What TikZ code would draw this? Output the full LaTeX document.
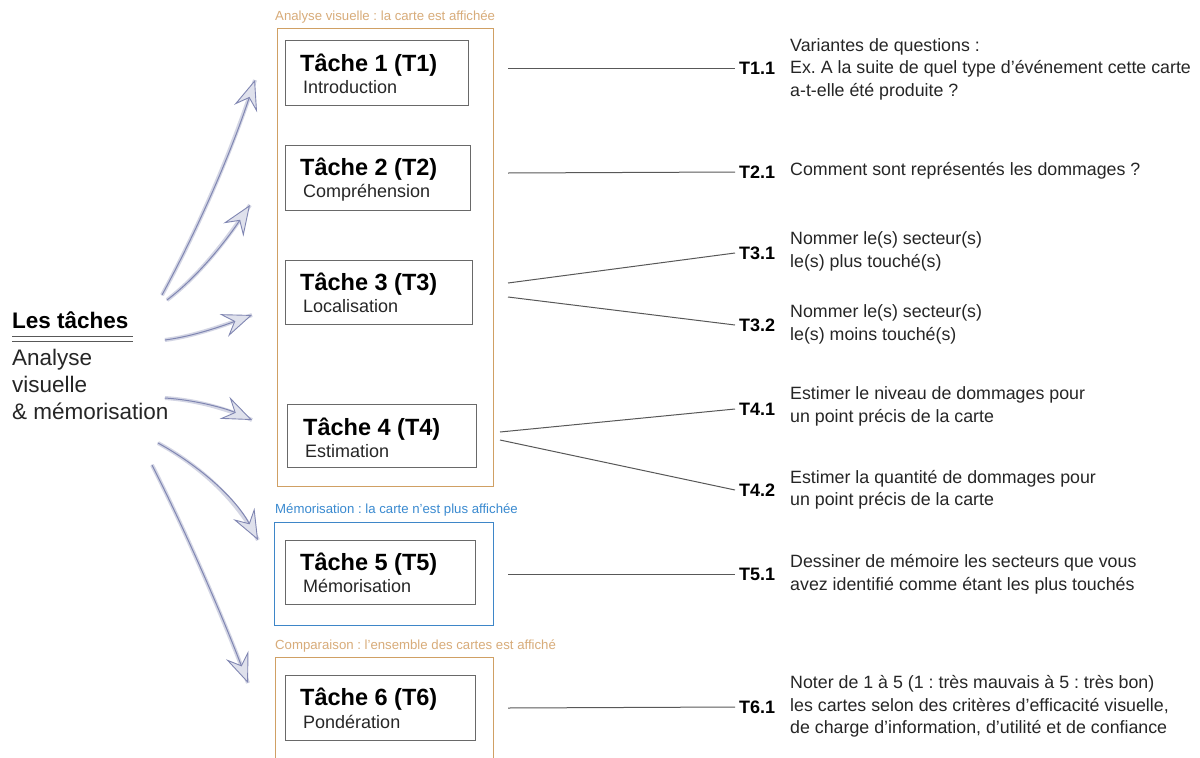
\documentclass[tikz,border=0pt]{standalone}
\usepackage{fontspec}
\setmainfont{Liberation Sans}
\usepackage{xcolor}
\usepackage{tikz}
\usetikzlibrary{positioning, calc, arrows.meta}
\frenchspacing

\definecolor{cadreorange}{RGB}{208,160,100}
\definecolor{texteorange}{RGB}{216,172,122}
\definecolor{cadrebleu}{RGB}{62,134,200}
\definecolor{textebleu}{RGB}{58,138,208}
\definecolor{flechecol}{RGB}{128,134,178}
\definecolor{gris}{RGB}{88,88,88}

\tikzset{
  cadre/.style={line width=1.3pt, anchor=north west, inner sep=0pt},
  tachebox/.style={draw=gris!90, line width=0.9pt, anchor=north west, inner sep=0pt},
  titre/.style={anchor=base west, inner sep=0pt, font=\fontsize{23.5}{26}\selectfont\bfseries},
  soustitre/.style={anchor=base west, inner sep=0pt, font=\fontsize{18}{22}\selectfont, text=black!85},
  etiquette/.style={anchor=west, inner sep=0pt, font=\fontsize{13.2}{15}\selectfont},
  tnum/.style={anchor=west, inner sep=4pt, font=\fontsize{18}{20}\selectfont\bfseries},
  desc/.style={anchor=west, inner sep=0pt, align=left, font=\fontsize{17.8}{22.5}\selectfont, text=black!85},
  lien/.style={draw=gris, line width=1pt},
  fleche/.style={draw=flechecol, line width=1pt, line cap=round,
    preaction={draw=flechecol!35, line width=4pt, -},
    -{Stealth[length=30pt, width=24pt, inset=11pt, fill=flechecol!25, line width=0.9pt]}}
}

\begin{document}
\begin{tikzpicture}[x=1pt, y=-1pt]
  \clip (0,0) rectangle (1200,758);
  \fill[white] (0,0) rectangle (1200,758);

  % Cadres des trois phases
  \node[cadre, draw=cadreorange, minimum width=216pt, minimum height=458pt] (f1) at (277,28) {};
  \node[cadre, draw=cadrebleu, minimum width=219pt, minimum height=103pt] (f2) at (274,522) {};
  \node[cadre, draw=cadreorange, minimum width=218pt, minimum height=130pt] (f3) at (275,657) {};
  \node[etiquette, text=texteorange] (e1) at (275,17) {Analyse visuelle : la carte est affichée};
  \node[etiquette, text=textebleu] (e2) at (275,510) {Mémorisation : la carte n’est plus affichée};
  \node[etiquette, text=texteorange] (e3) at (275,646) {Comparaison : l’ensemble des cartes est affiché};

  % Taches
  \node[tachebox, minimum width=183pt, minimum height=65pt] (t1) at (285,40) {};
  \node[titre] (t1t) at ([shift={(15,31)}]t1.north west) {Tâche 1 (T1)};
  \node[soustitre] (t1s) at ([shift={(18,53.5)}]t1.north west) {Introduction};

  \node[tachebox, minimum width=185pt, minimum height=65pt] (t2) at (285,145) {};
  \node[titre] (t2t) at ([shift={(15,30)}]t2.north west) {Tâche 2 (T2)};
  \node[soustitre] (t2s) at ([shift={(18,52.5)}]t2.north west) {Compréhension};

  \node[tachebox, minimum width=187pt, minimum height=64pt] (t3) at (285,260) {};
  \node[titre] (t3t) at ([shift={(15,30)}]t3.north west) {Tâche 3 (T3)};
  \node[soustitre] (t3s) at ([shift={(18,52.5)}]t3.north west) {Localisation};

  \node[tachebox, minimum width=189pt, minimum height=63pt] (t4) at (287,404) {};
  \node[titre] (t4t) at ([shift={(16,31)}]t4.north west) {Tâche 4 (T4)};
  \node[soustitre] (t4s) at ([shift={(18,53.5)}]t4.north west) {Estimation};

  \node[tachebox, minimum width=190pt, minimum height=64pt] (t5) at (285,540) {};
  \node[titre] (t5t) at ([shift={(15,30)}]t5.north west) {Tâche 5 (T5)};
  \node[soustitre] (t5s) at ([shift={(18,52.5)}]t5.north west) {Mémorisation};

  \node[tachebox, minimum width=190pt, minimum height=65pt] (t6) at (285,675) {};
  \node[titre] (t6t) at ([shift={(15,30)}]t6.north west) {Tâche 6 (T6)};
  \node[soustitre] (t6s) at ([shift={(18,53.5)}]t6.north west) {Pondération};

  % Sous-taches
  \coordinate (d11) at (508,68);
  \coordinate (d21) at (508,173);
  \coordinate (d31) at (508,283);
  \coordinate (d32) at (508,297);
  \coordinate (d41) at (500,432);
  \coordinate (d42) at (500,440);
  \coordinate (d51) at (508,574);
  \coordinate (d61) at (508,708);

  \node[tnum] (n11) at (735,68) {T1.1};
  \node[tnum] (n21) at (735,172) {T2.1};
  \node[tnum] (n31) at (735,253) {T3.1};
  \node[tnum] (n32) at (735,325) {T3.2};
  \node[tnum] (n41) at (735,409) {T4.1};
  \node[tnum] (n42) at (735,490) {T4.2};
  \node[tnum] (n51) at (735,574) {T5.1};
  \node[tnum] (n61) at (735,707) {T6.1};

  \draw[lien] (d11) -- (n11.west);
  \draw[lien] (d21) -- (n21.west);
  \draw[lien] (d31) -- (n31.west);
  \draw[lien] (d32) -- (n32.west);
  \draw[lien] (d41) -- (n41.west);
  \draw[lien] (d42) -- (n42.west);
  \draw[lien] (d51) -- (n51.west);
  \draw[lien] (d61) -- (n61.west);

  \node[desc] (x11) at (790,69) {Variantes de questions :\\Ex. A la suite de quel type d’événement cette carte\\a-t-elle été produite ?};
  \node[desc] (x21) at (790,171) {Comment sont représentés les dommages ?};
  \node[desc] (x31) at (790,251.5) {Nommer le(s) secteur(s)\\le(s) plus touché(s)};
  \node[desc] (x32) at (790,324.5) {Nommer le(s) secteur(s)\\le(s) moins touché(s)};
  \node[desc] (x41) at (790,406.5) {Estimer le niveau de dommages pour\\un point précis de la carte};
  \node[desc] (x42) at (790,490) {Estimer la quantité de dommages pour\\un point précis de la carte};
  \node[desc] (x51) at (790,574.5) {Dessiner de mémoire les secteurs que vous\\avez identifié comme étant les plus touchés};
  \node[desc] (x61) at (790,706.5) {Noter de 1 à 5 (1 : très mauvais à 5 : très bon)\\les cartes selon des critères d’efficacité visuelle,\\de charge d’information, d’utilité et de confiance};

  % Titre a gauche
  \node[anchor=base west, inner sep=0pt, font=\fontsize{22.5}{26}\selectfont\bfseries] (lt) at (12,328) {Les tâches};
  \draw[gris, line width=1pt] ([yshift=-8pt]lt.base west) -- ([yshift=-8pt, xshift=4pt]lt.base east);
  \draw[gris, line width=0.8pt] ([yshift=-13pt]lt.base west) -- ([yshift=-13pt, xshift=4pt]lt.base east);
  \node[anchor=north west, inner sep=0pt, align=left, font=\fontsize{22.5}{27}\selectfont, text=black!85] (la) at (12,349) {Analyse\\visuelle\\\& mémorisation};

  % Fleches
  \coordinate (a1s) at (162,295); \coordinate (a1e) at (255,80);
  \coordinate (a2s) at (167,300); \coordinate (a2e) at (250,205);
  \coordinate (a3s) at (165,340); \coordinate (a3e) at (252,315);
  \coordinate (a4s) at (165,398); \coordinate (a4e) at (252,420);
  \coordinate (a5s) at (158,443); \coordinate (a5e) at (258,540);
  \coordinate (a6s) at (152,465); \coordinate (a6e) at (248,683);
  \draw[fleche] (a1s) .. controls (200,225) and (232,150) .. (a1e);
  \draw[fleche] (a2s) .. controls (200,275) and (228,238) .. (a2e);
  \draw[fleche] (a3s) .. controls (195,336) and (225,325) .. (a3e);
  \draw[fleche] (a4s) .. controls (195,400) and (225,408) .. (a4e);
  \draw[fleche] (a5s) .. controls (198,465) and (235,497) .. (a5e);
  \draw[fleche] (a6s) .. controls (185,530) and (220,610) .. (a6e);
\end{tikzpicture}
\end{document}
